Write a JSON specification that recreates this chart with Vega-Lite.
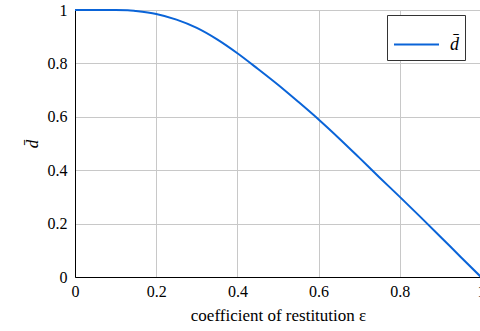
{
  "$schema": "https://vega.github.io/schema/vega-lite/v6.json",
  "width": 406,
  "height": 267,
  "autosize": {"type": "none"},
  "padding": {"left": 75, "top": 10, "right": 0, "bottom": 54},
  "background": "white",
  "config": {
    "view": {"stroke": "black", "strokeWidth": 1},
    "font": "Liberation Serif",
    "axis": {"labelFont": "Liberation Serif", "titleFont": "Liberation Serif"},
    "legend": {"labelFont": "Liberation Serif"}
  },
  "data": {
    "values": [
      {"e": 0.0, "d": 1.0, "s": "d̄"},
      {"e": 0.05, "d": 1.0, "s": "d̄"},
      {"e": 0.1, "d": 1.0, "s": "d̄"},
      {"e": 0.13, "d": 0.999, "s": "d̄"},
      {"e": 0.15, "d": 0.996, "s": "d̄"},
      {"e": 0.2, "d": 0.985, "s": "d̄"},
      {"e": 0.25, "d": 0.964, "s": "d̄"},
      {"e": 0.3, "d": 0.933, "s": "d̄"},
      {"e": 0.35, "d": 0.89, "s": "d̄"},
      {"e": 0.4, "d": 0.838, "s": "d̄"},
      {"e": 0.45, "d": 0.78, "s": "d̄"},
      {"e": 0.5, "d": 0.72, "s": "d̄"},
      {"e": 0.55, "d": 0.656, "s": "d̄"},
      {"e": 0.6, "d": 0.59, "s": "d̄"},
      {"e": 0.65, "d": 0.52, "s": "d̄"},
      {"e": 0.7, "d": 0.447, "s": "d̄"},
      {"e": 0.75, "d": 0.373, "s": "d̄"},
      {"e": 0.8, "d": 0.3, "s": "d̄"},
      {"e": 0.85, "d": 0.226, "s": "d̄"},
      {"e": 0.9, "d": 0.151, "s": "d̄"},
      {"e": 0.95, "d": 0.075, "s": "d̄"},
      {"e": 1.0, "d": 0.0, "s": "d̄"}
    ]
  },
  "mark": {"type": "line", "strokeWidth": 2, "clip": false, "interpolate": "monotone"},
  "encoding": {
    "x": {
      "field": "e", "type": "quantitative",
      "scale": {"domain": [0, 1], "nice": false, "zero": false},
      "axis": {
        "title": "coefficient of restitution ε",
        "values": [0, 0.2, 0.4, 0.6, 0.8, 1],
        "format": "~g",
        "grid": true, "gridColor": "#c8c8c8", "gridWidth": 1,
        "domainColor": "black", "ticks": false,
        "labelFontSize": 16, "labelColor": "black",
        "labelPadding": 6, "labelFlush": false,
        "titleFontSize": 17, "titleFontWeight": "normal", "titleColor": "black",
        "titlePadding": 8
      }
    },
    "y": {
      "field": "d", "type": "quantitative",
      "scale": {"domain": [0, 1], "nice": false, "zero": false},
      "axis": {
        "title": "d̄",
        "values": [0, 0.2, 0.4, 0.6, 0.8, 1],
        "format": "~g",
        "grid": true, "gridColor": "#c8c8c8", "gridWidth": 1,
        "domainColor": "black", "ticks": false,
        "labelFontSize": 16, "labelColor": "black",
        "labelPadding": 8, "labelFlush": false,
        "titleFontSize": 17, "titleFontStyle": "italic", "titleFontWeight": "normal", "titleColor": "black",
        "titlePadding": 6
      }
    },
    "color": {
      "field": "s", "type": "nominal",
      "scale": {"range": ["#0a64d8"]},
      "legend": {
        "title": null,
        "orient": "none",
        "legendX": 312,
        "legendY": 5,
        "symbolType": "stroke",
        "symbolSize": 2025,
        "symbolStrokeWidth": 2,
        "padding": 6,
        "strokeColor": "#333333",
        "fillColor": "white",
        "labelFontSize": 18,
        "labelFontStyle": "italic",
        "labelColor": "black",
        "labelOffset": 10
      }
    }
  }
}
